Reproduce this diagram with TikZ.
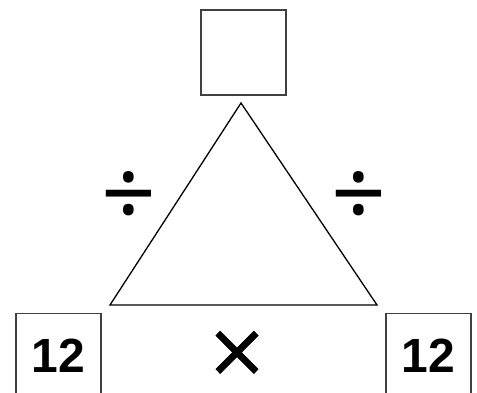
\documentclass[tikz,border=0pt]{standalone}
\usepackage{fontspec}
\setmainfont{Liberation Sans}
\newfontfamily\symfont{Noto Sans}
\newfontfamily\timesfont[FakeBold=0.8]{DejaVu Sans}
\begin{document}
\begin{tikzpicture}[x=1pt,y=-1pt,
  box/.style={draw=black!75,line width=1.2pt,minimum width=85pt,minimum height=85pt,inner sep=0pt,font=\fontsize{48}{52}\selectfont\bfseries},
  tri/.style={draw=black,line width=1.3pt,line join=miter},
  sym/.style={inner sep=0pt,font=\symfont\fontsize{96}{96}\selectfont},
  timessym/.style={inner sep=0pt,font=\timesfont\fontsize{75}{75}\selectfont}]
\useasboundingbox (0,0) rectangle (477,393);
\node[box] (top) at (243.5,52.5) {};
\node[box] (bl) at (58.5,356) {12};
\node[box] (br) at (428.5,356) {12};
\coordinate (a) at (241,103);
\coordinate (b) at (110,305);
\coordinate (c) at (377,305);
\draw[tri] (a) -- (b) -- (c) -- cycle;
\node[sym] (d1) at (128.5,200) {÷};
\node[sym] (d2) at (358.5,200) {÷};
\node[timessym] (m) at (237,353.5) {×};
\end{tikzpicture}
\end{document}
